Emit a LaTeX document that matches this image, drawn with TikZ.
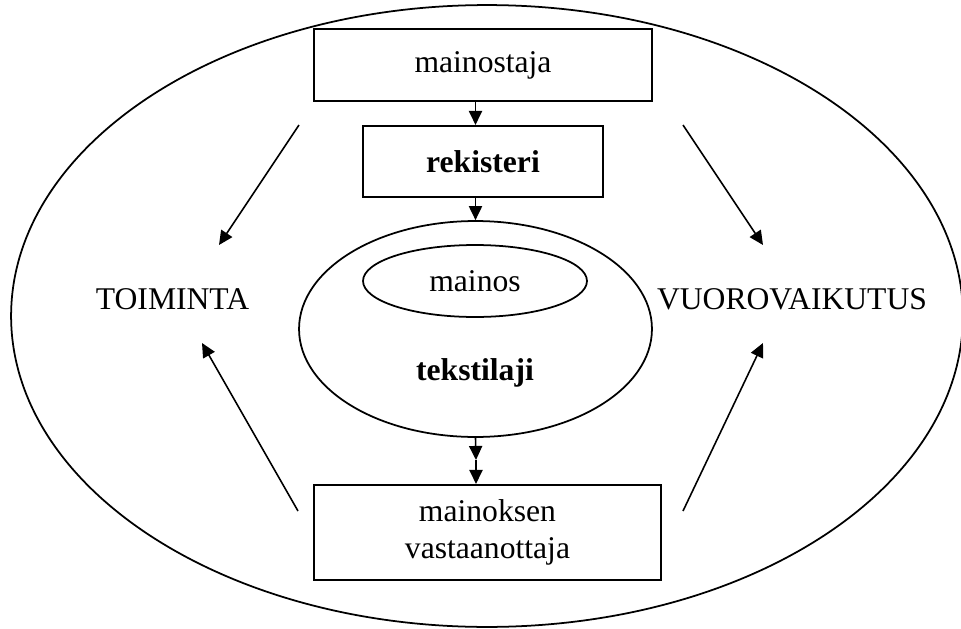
\documentclass[tikz,border=0pt]{standalone}
\usepackage{fontspec}
\setmainfont{Liberation Serif}
\usetikzlibrary{arrows.meta,shapes.geometric}
\begin{document}
\begin{tikzpicture}[x = 0.02cm, y = -0.02cm,
	every node/.style = {font = \fontsize{18pt}{21.5pt}\selectfont},
	box/.style = {draw, line width = 1.2pt, inner sep = 0pt, align = center},
	oval/.style = {draw, ellipse, line width = 1pt, inner sep = 0pt},
	arr/.style = {line width = 0.9pt, -{Triangle[length = 8pt, width = 7.5pt]}}]
\useasboundingbox (0,0) rectangle (961,629);
\draw[line width = 1pt] (487,316) ellipse [x radius = 9.52cm, y radius = 6.22cm];
\node[box, minimum width = 6.76cm, minimum height = 1.44cm] (mainostaja) at (483,65) {mainostaja};
\node[box, minimum width = 4.8cm, minimum height = 1.42cm, font = \fontsize{18pt}{21.5pt}\selectfont\bfseries] (rekisteri) at (483,161.5) {rekisteri};
\node[oval, minimum width = 7.06cm, minimum height = 4.32cm] (tekstilaji) at (475.5,329) {};
\node[oval, minimum width = 4.48cm, minimum height = 1.44cm] (mainos) at (475,281) {mainos};
\node[font = \fontsize{18pt}{21.5pt}\selectfont\bfseries] (tekstilajinimi) at (475,373) {tekstilaji};
\node[box, minimum width = 6.94cm, minimum height = 1.9cm] (vastaanottaja) at (487.5,532.5) {mainoksen\\vastaanottaja};
\node (toiminta) at (172.5,299) {TOIMINTA};
\node (vuorovaikutus) at (792,299) {VUOROVAIKUTUS};
% pystysuorat nuolet
\draw[arr] (mainostaja.south -| tekstilaji.center) -- (rekisteri.north -| tekstilaji.center);
\draw[arr] (rekisteri.south -| tekstilaji.center) -- (tekstilaji.north);
\coordinate (keski) at (476,460);
\draw[arr] (tekstilaji.south) -- (keski);
\draw[arr] (keski) -- (vastaanottaja.north -| keski);
% vinot nuolet
\coordinate (vy) at (299,125);
\coordinate (vyk) at (219,245);
\coordinate (oy) at (683,125);
\coordinate (oyk) at (763,245);
\coordinate (va) at (298,511);
\coordinate (vak) at (202,343);
\coordinate (oa) at (683,511);
\coordinate (oak) at (763,343);
\foreach \a/\b in {vy/vyk, oy/oyk, va/vak, oa/oak}
{
	\draw[arr] (\a) -- (\b);
}
\end{tikzpicture}
\end{document}
